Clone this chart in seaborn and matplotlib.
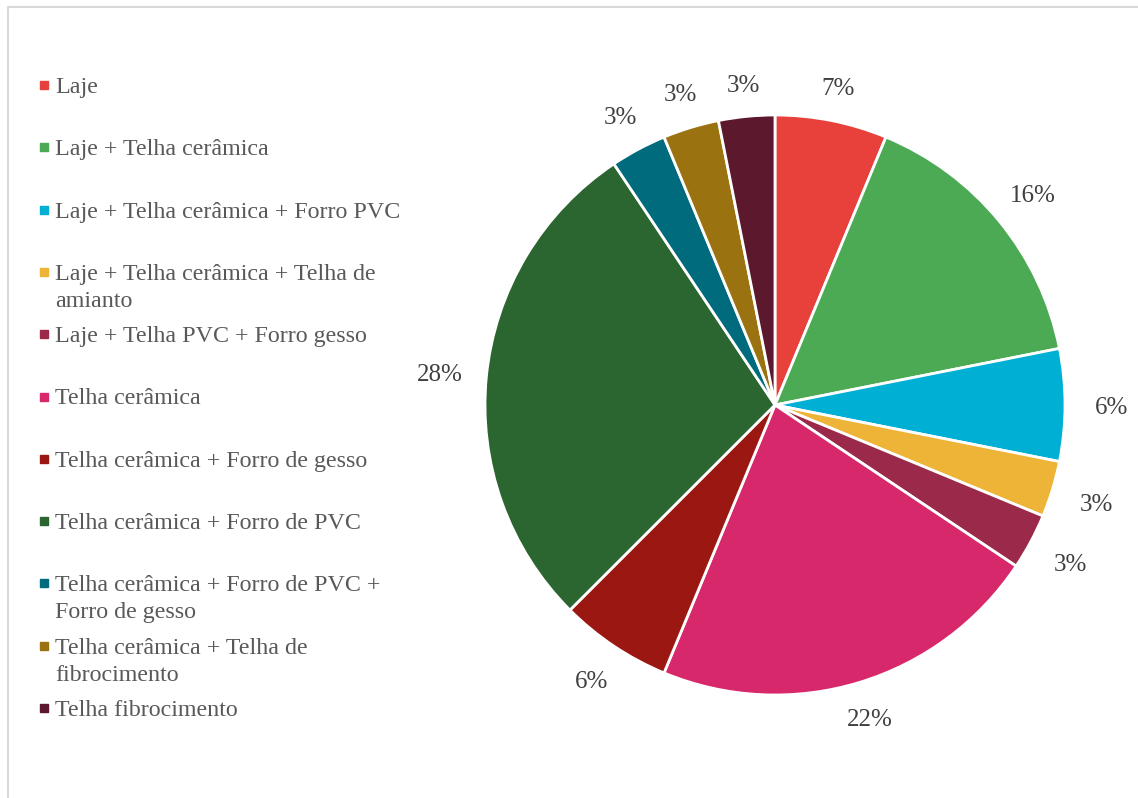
import matplotlib
matplotlib.use("Agg")
import numpy as np
import matplotlib.pyplot as plt
import seaborn as sns
from matplotlib.lines import Line2D

# data
categories = [
    "Laje",
    "Laje + Telha cerâmica",
    "Laje + Telha cerâmica + Forro PVC",
    "Laje + Telha cerâmica + Telha de\namianto",
    "Laje + Telha PVC + Forro gesso",
    "Telha cerâmica",
    "Telha cerâmica + Forro de gesso",
    "Telha cerâmica + Forro de PVC",
    "Telha cerâmica + Forro de PVC +\nForro de gesso",
    "Telha cerâmica + Telha de\nfibrocimento",
    "Telha fibrocimento",
]
counts = [2, 5, 2, 1, 1, 7, 2, 9, 1, 1, 1]
pct_labels = ["7%", "16%", "6%", "3%", "3%", "22%", "6%", "28%", "3%", "3%", "3%"]
colors = ["#E8403A", "#4CAA55", "#00B0D4", "#EDB437", "#9B2A4A", "#D6286A",
          "#9B1712", "#2B6530", "#006B7C", "#9B7210", "#5C182D"]

sns.set_theme(style="white")
plt.rcParams["font.family"] = ["Liberation Serif", "DejaVu Serif"]

W, H = 1138, 798
fig = plt.figure(figsize=(W / 100, H / 100), dpi=100)

# pie axes: centre (775, 405) px, radius 290 px
r = 290
half = 1.25 * r
ax = fig.add_axes([(775 - half) / W, (H - 405 - half) / H, 2 * half / W, 2 * half / H])
wedges, texts = ax.pie(counts, labels=pct_labels, colors=colors, startangle=90,
                       counterclock=False, labeldistance=1.15,
                       wedgeprops=dict(edgecolor="white", linewidth=2.0),
                       textprops=dict(fontsize=18, color="#404040"))
# Excel-like placement: labels sit a bit further out at the sides than at top/bottom
for w, t in zip(wedges, texts):
    ang = np.deg2rad((w.theta1 + w.theta2) / 2)
    d = 1.11 + 0.05 * abs(np.cos(ang))
    t.set_position((d * np.cos(ang), d * np.sin(ang)))
    t.set_ha("center")
    t.set_va("center_baseline")
ax.set_xlim(-1.25, 1.25)
ax.set_ylim(-1.25, 1.25)
ax.set_aspect("equal")
ax.axis("off")

# legend, Excel style: fixed slot per entry
base0 = 93
step = 62.3
line_gap = 27
for i, (lab, col) in enumerate(zip(categories, colors)):
    b = base0 + i * step
    fig.add_artist(Line2D([43.5 / W], [1 - (b - 8) / H], marker="s", markersize=5.3,
                          color=col, linestyle="none", transform=fig.transFigure))
    for k, line in enumerate(lab.split("\n")):
        fig.text(55 / W, 1 - (b + k * line_gap) / H, line, fontsize=17.3,
                 color="#595959", ha="left", va="baseline")

# light frame (top and left edges visible)
fig.add_artist(Line2D([7.5 / W, 1], [1 - 6.5 / H, 1 - 6.5 / H], color="#D9D9D9",
                      linewidth=1.5, transform=fig.transFigure))
fig.add_artist(Line2D([7.5 / W, 7.5 / W], [0, 1 - 6.5 / H], color="#D9D9D9",
                      linewidth=1.5, transform=fig.transFigure))

fig.savefig("out.png", dpi=100)
